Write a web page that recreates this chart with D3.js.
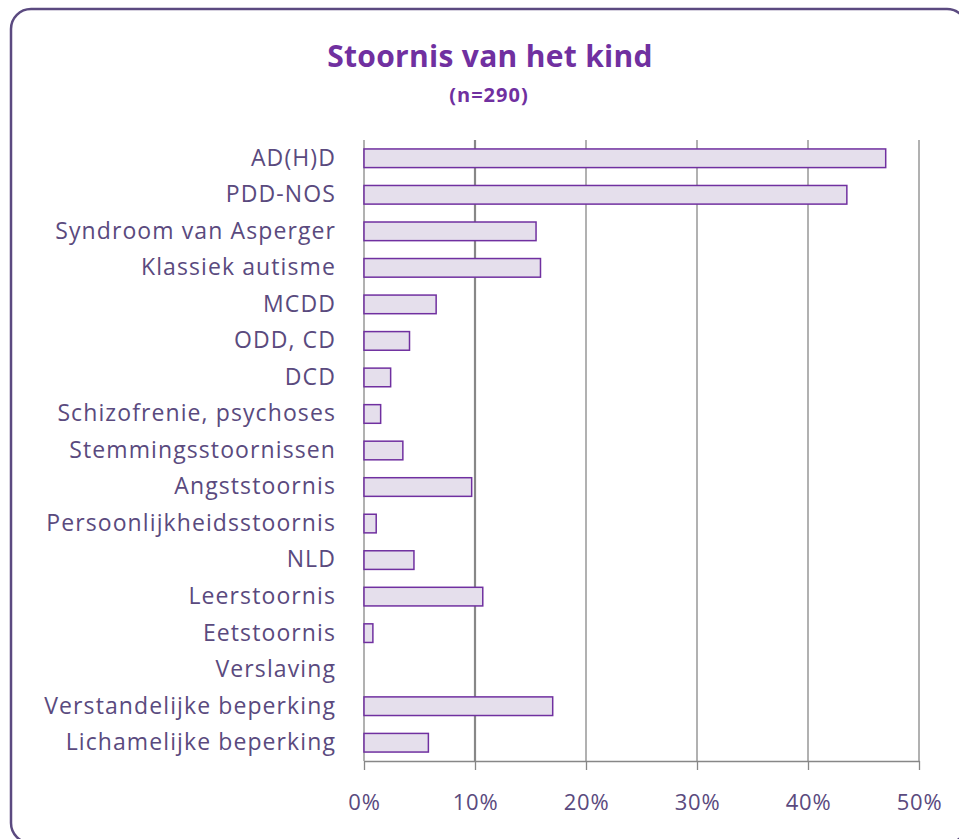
<!DOCTYPE html>
<html>
<head>
<meta charset="utf-8">
<script src="https://cdn.jsdelivr.net/npm/d3@7"></script>
<style>
  body { margin: 0; background: #ffffff; }
  svg { display: block; }
</style>
</head>
<body>
<svg id="chart" width="959" height="839"></svg>
<script>
//Chart data
var categories = [
  "AD(H)D", "PDD-NOS", "Syndroom van Asperger", "Klassiek autisme", "MCDD",
  "ODD, CD", "DCD", "Schizofrenie, psychoses", "Stemmingsstoornissen",
  "Angststoornis", "Persoonlijkheidsstoornis", "NLD", "Leerstoornis",
  "Eetstoornis", "Verslaving", "Verstandelijke beperking", "Lichamelijke beperking"
];
var values = [0.470, 0.435, 0.155, 0.159, 0.065, 0.041, 0.024, 0.015, 0.035,
  0.097, 0.011, 0.045, 0.107, 0.008, 0, 0.170, 0.058];
var xTicks = [0, 0.1, 0.2, 0.3, 0.4, 0.5];
var title = "Stoornis van het kind";
var subtitle = "(n=290)";

var svg = d3.select("#chart");
var textColor = "#5a4a7e";
var gridColor = "#878787";

//Plot area (not named "top": that clashes with window.top)
var plotLeft = 364, plotRight = 919, plotTop = 140, plotBottom = 761;

var x = d3.scaleLinear().domain([0, 0.5]).range([plotLeft, plotRight]);
var y = d3.scaleBand().domain(categories).range([plotTop, plotBottom])
  .paddingInner(0.49).paddingOuter(0.245);

//Outer rounded frame
svg.append("rect")
  .attr("x", 11).attr("y", 9)
  .attr("width", 956).attr("height", 834)
  .attr("rx", 20).attr("ry", 20)
  .attr("fill", "none")
  .attr("stroke", "#5b4a80")
  .attr("stroke-width", 2.5);

//Titles
svg.append("text")
  .attr("x", 490).attr("y", 67)
  .attr("text-anchor", "middle")
  .attr("font-family", "Open Sans")
  .attr("font-weight", "bold")
  .attr("font-size", 30)
  .attr("letter-spacing", 0.3)
  .attr("fill", "#7030a0")
  .text(title);

svg.append("text")
  .attr("x", 489).attr("y", 102)
  .attr("text-anchor", "middle")
  .attr("font-family", "Open Sans")
  .attr("font-weight", "bold")
  .attr("font-size", 20)
  .attr("letter-spacing", 1)
  .attr("fill", "#7030a0")
  .text(subtitle);

//Vertical gridlines
svg.append("g").selectAll("line")
  .data(xTicks)
  .join("line")
  .attr("x1", function(d) { return x(d); })
  .attr("x2", function(d) { return x(d); })
  .attr("y1", plotTop)
  .attr("y2", plotBottom)
  .attr("stroke", gridColor)
  .attr("stroke-width", function(d) { return d === 0.1 ? 2.2 : 1.3; });

//Bars
svg.append("g").selectAll("rect")
  .data(values)
  .join("rect")
  .attr("x", x(0))
  .attr("y", function(d, i) { return y(categories[i]); })
  .attr("width", function(d) { return x(d) - x(0); })
  .attr("height", y.bandwidth())
  .attr("fill", "#e5dfec")
  .attr("stroke", function(d) { return d > 0 ? "#7030a0" : "none"; })
  .attr("stroke-width", 1.5);

//Bottom axis
var xAxis = svg.append("g")
  .attr("transform", "translate(0," + plotBottom + ")")
  .call(d3.axisBottom(x).tickValues(xTicks).tickFormat(d3.format(".0%"))
    .tickSize(9).tickSizeOuter(0).tickPadding(24));
xAxis.select(".domain").attr("stroke", gridColor).attr("stroke-width", 1.3);
xAxis.selectAll(".tick line").attr("stroke", gridColor).attr("stroke-width", 1.3);
xAxis.selectAll("text")
  .attr("font-family", "Open Sans")
  .attr("font-size", 22)
  .attr("letter-spacing", 0.8)
  .attr("fill", textColor);

//Category labels
var yAxis = svg.append("g")
  .attr("transform", "translate(" + plotLeft + ",0)")
  .call(d3.axisLeft(y).tickSize(0).tickPadding(28));
yAxis.select(".domain").remove();
yAxis.selectAll("text")
  .attr("font-family", "Open Sans")
  .attr("font-size", 23)
  .attr("letter-spacing", 1.1)
  .attr("fill", textColor);
</script>
</body>
</html>
